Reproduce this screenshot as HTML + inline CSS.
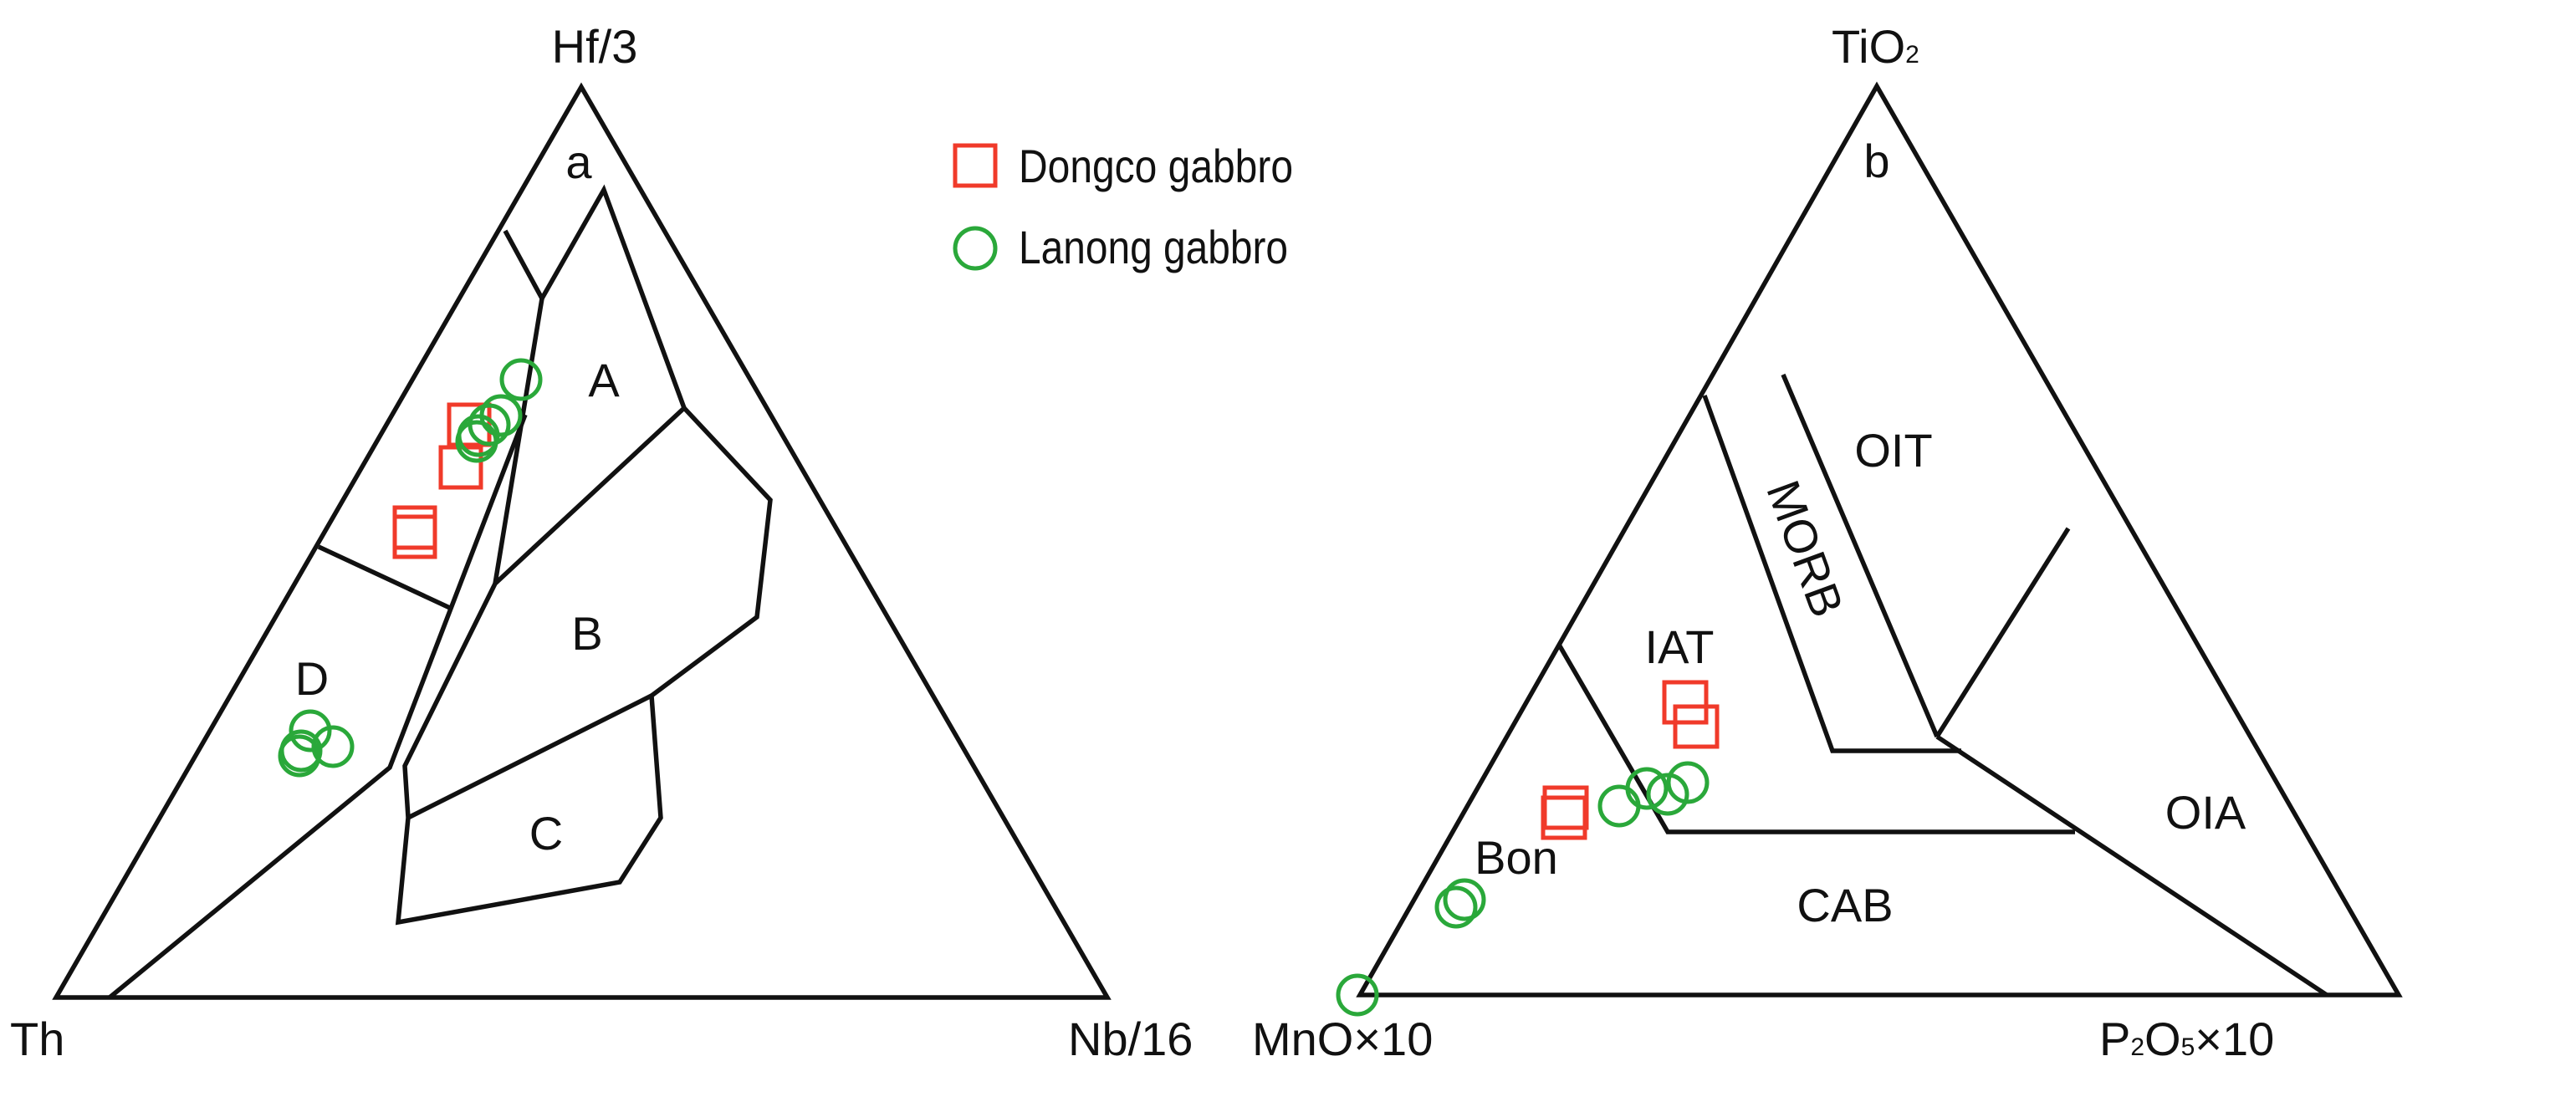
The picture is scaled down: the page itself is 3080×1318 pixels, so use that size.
<!DOCTYPE html>
<html><head><meta charset="utf-8"><style>
html,body{margin:0;padding:0;background:#fff;overflow:hidden;}
svg{display:block;}
text{font-family:"Liberation Sans",Arial,sans-serif;fill:#111;}
</style></head><body>
<svg width="3080" height="1318" viewBox="0 0 3080 1318" xmlns="http://www.w3.org/2000/svg">
<g fill="none" stroke="#111" stroke-width="5.5" stroke-linejoin="miter">
<!-- left triangle -->
<polygon points="695,104 67,1193 1324,1193"/>
<polyline points="604,276 648,357 722,227 818,488"/>
<line x1="648" y1="357" x2="592" y2="698"/>
<polyline points="818,488 592,698 484,916 488,978 476,1103 741,1055 790,978 779,832 905,738 921,598 818,488"/>
<line x1="779" y1="832" x2="488" y2="978"/>
<polyline points="628,496 466,918 131,1193"/>
<line x1="381" y1="654" x2="540" y2="728"/>
<!-- right triangle -->
<polygon points="2244,103 1626,1190 2868,1190"/>
<polyline points="2038,473 2191,898 2345,898"/>
<line x1="2132" y1="448" x2="2316" y2="881"/>
<line x1="2473" y1="632" x2="2316" y2="881"/>
<line x1="2316" y1="881" x2="2782" y2="1190"/>
<polyline points="1864,771 1994,995 2481,995"/>
</g>
<g font-size="56">
<text x="711" y="75" text-anchor="middle">Hf/3</text>
<text x="12" y="1262">Th</text>
<text x="1277" y="1262">Nb/16</text>
<text x="692" y="213" text-anchor="middle">a</text>
<text x="722" y="474" text-anchor="middle">A</text>
<text x="702" y="777" text-anchor="middle">B</text>
<text x="653" y="1016" text-anchor="middle">C</text>
<text x="373" y="831" text-anchor="middle">D</text>
<text x="1218" y="218" textLength="328" lengthAdjust="spacingAndGlyphs">Dongco gabbro</text>
<text x="1218" y="315" textLength="322" lengthAdjust="spacingAndGlyphs">Lanong gabbro</text>
<text x="2190" y="75">TiO<tspan font-size="30">2</tspan></text>
<text x="1497" y="1262">MnO×10</text>
<text x="2510" y="1262">P<tspan font-size="30">2</tspan>O<tspan font-size="30">5</tspan>×10</text>
<text x="2244" y="212" text-anchor="middle">b</text>
<text x="2264" y="558" text-anchor="middle">OIT</text>
<text x="2008" y="793" text-anchor="middle">IAT</text>
<text x="2637" y="991" text-anchor="middle">OIA</text>
<text x="2206" y="1102" text-anchor="middle">CAB</text>
<text x="1813" y="1045" text-anchor="middle">Bon</text>
<text transform="translate(2159,656) rotate(70)" text-anchor="middle" y="20">MORB</text>
</g>
<g fill="none" stroke-width="5">
<rect x="1142" y="174" width="48" height="48" stroke="#f03a2a"/>
<circle cx="1166" cy="297" r="24" stroke="#2aa83a"/>
<g stroke="#f03a2a">
<rect x="537" y="484" width="48" height="48"/>
<rect x="527" y="535" width="48" height="48"/>
<rect x="472" y="607" width="48" height="48"/>
<rect x="472" y="618" width="48" height="48"/>
</g>
<g stroke="#2aa83a">
<circle cx="623" cy="454" r="23"/>
<circle cx="599" cy="497" r="23"/>
<circle cx="585" cy="508" r="23"/>
<circle cx="572" cy="521" r="23"/>
<circle cx="570" cy="528" r="23"/>
<circle cx="371" cy="874" r="23"/>
<circle cx="398" cy="893" r="23"/>
<circle cx="358" cy="904" r="23"/>
<circle cx="360" cy="898" r="23"/>
</g>
<g stroke="#f03a2a">
<rect x="1990" y="816" width="50" height="48"/>
<rect x="2003" y="845" width="50" height="48"/>
<rect x="1847" y="942" width="50" height="48"/>
<rect x="1845" y="954" width="50" height="48"/>
</g>
<g stroke="#2aa83a">
<circle cx="1936" cy="964" r="23"/>
<circle cx="1969" cy="943" r="23"/>
<circle cx="1994" cy="950" r="23"/>
<circle cx="2018" cy="936" r="23"/>
<circle cx="1741" cy="1085" r="23"/>
<circle cx="1751" cy="1076" r="23"/>
<circle cx="1623" cy="1190" r="23"/>
</g>
</g>
</svg>
</body></html>
